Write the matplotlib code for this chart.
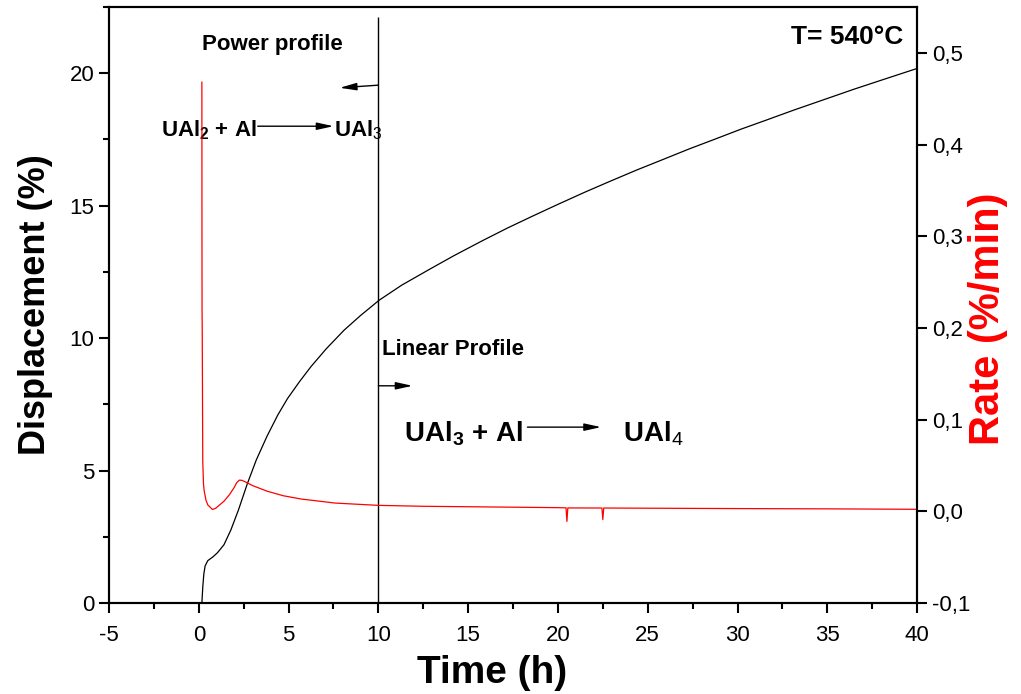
import matplotlib
matplotlib.use("Agg")
import matplotlib.pyplot as plt
from matplotlib.ticker import MultipleLocator, FuncFormatter

plt.rcParams['font.family'] = ['Liberation Sans', 'DejaVu Sans']
plt.rcParams['mathtext.fontset'] = 'custom'
plt.rcParams['mathtext.rm'] = 'Liberation Sans'
plt.rcParams['mathtext.bf'] = 'Liberation Sans:bold'
plt.rcParams['axes.unicode_minus'] = False

# displacement (%) vs time (h), black curve, left axis
disp_t = [0.17, 0.22, 0.28, 0.35, 0.5, 0.8, 1.04, 1.4, 1.78, 2.2, 2.7, 3.2, 3.8, 4.4,
          4.94, 5.6, 6.24, 7.1, 8.09, 9.0, 10.04, 11.3, 12.8, 14.2, 15.8, 17.2, 18.6,
          20.0, 21.5, 22.9, 24.4, 25.8, 27.3, 28.7, 30.2, 31.6, 33.1, 34.8, 36.5,
          38.2, 40.0]
disp_v = [0.0, 0.6, 1.1, 1.4, 1.6, 1.75, 1.9, 2.2, 2.75, 3.5, 4.5, 5.4, 6.3, 7.1,
          7.72, 8.35, 8.92, 9.6, 10.3, 10.85, 11.43, 12.0, 12.58, 13.11, 13.68, 14.16, 14.61,
          15.05, 15.51, 15.92, 16.35, 16.73, 17.14, 17.5, 17.89, 18.23, 18.6, 19.0, 19.4,
          19.78, 20.18]

# rate (%/min) vs time (h), red curve, right axis
rate_t = [0.17, 0.175, 0.18, 0.19, 0.2, 0.22, 0.26, 0.3, 0.4, 0.5, 0.76, 0.95, 1.1, 1.4, 1.7,
          1.97, 2.1, 2.25, 2.4, 2.6, 3.0, 3.8, 4.7, 5.7, 7.6, 10.0, 12.5, 15.0, 17.5, 20.0, 20.45,
          20.5, 20.55, 22.45, 22.5, 22.55, 25.0, 30.0, 35.0, 40.0]
rate_v = [0.468, 0.30, 0.22, 0.196, 0.147, 0.054, 0.03, 0.022, 0.012, 0.007, 0.002, 0.0035,
          0.006, 0.011, 0.018, 0.026, 0.031, 0.034, 0.0338, 0.032, 0.028, 0.022, 0.017, 0.0134,
          0.009, 0.0065, 0.0055, 0.005, 0.0045, 0.004, 0.0038, -0.011, 0.0037, 0.0036, -0.009,
          0.0036, 0.0034, 0.003, 0.0027, 0.0022]

fig = plt.figure(figsize=(10.21, 6.94), dpi=100)
ax = fig.add_axes([0.1068, 0.1311, 0.7914, 0.8588])
ax2 = ax.twinx()

ax.plot(disp_t, disp_v, color='black', lw=0.9)
ax2.plot(rate_t, rate_v, color='red', lw=0.9)

ax.set_xlim(-5, 40)
ax.set_ylim(0, 22.5)
ax2.set_ylim(-0.1, 0.55)

ax.xaxis.set_major_locator(MultipleLocator(5))
ax.xaxis.set_minor_locator(MultipleLocator(2.5))
ax.yaxis.set_major_locator(MultipleLocator(5))
ax.yaxis.set_minor_locator(MultipleLocator(2.5))
ax2.yaxis.set_major_locator(MultipleLocator(0.1))
ax2.yaxis.set_major_formatter(FuncFormatter(lambda v, p: ("%.1f" % v).replace(".", ",")))

for a in (ax, ax2):
    for s in a.spines.values():
        s.set_linewidth(1.5)
    a.tick_params(which='major', direction='out', length=7, width=1.5, labelsize=16)
    a.tick_params(which='minor', direction='out', length=4, width=1.5)
ax.tick_params(axis='y', right=False)
ax.tick_params(axis='x', pad=9)

ax.set_xlabel("Time (h)", fontsize=28, fontweight='bold')
ax.xaxis.set_label_coords(0.474, -0.088)
ax.set_ylabel("Displacement (%)", fontsize=26, fontweight='bold', labelpad=12)
ax2.set_ylabel("Rate (%/min)", fontsize=30, fontweight='bold', color='red')
ax2.yaxis.set_label_coords(1.063, 0.477)

# profile boundary at 10 h
ax.vlines(10, 0, 22.11, color='black', lw=1.0)

arrow = dict(arrowstyle='-|>,head_length=1.0,head_width=0.22', color='black', lw=1.0,
             shrinkA=0, shrinkB=0)
ax.annotate("", xy=(7.85, 19.45), xytext=(10, 19.55), arrowprops=arrow)
ax.annotate("", xy=(11.9, 8.2), xytext=(10, 8.2), arrowprops=arrow)
ax.annotate("", xy=(7.5, 18.0), xytext=(3.28, 18.0), arrowprops=arrow)
ax.annotate("", xy=(22.4, 6.64), xytext=(18.3, 6.64), arrowprops=arrow)

ax.text(0.17, 21.1, "Power profile", fontsize=16, fontweight='bold', ha='left', va='center')
ax.text(10.2, 9.36, "Linear Profile", fontsize=16, fontweight='bold', ha='left', va='baseline')
ax.text(-2.1, 17.62, r"UAl$_\mathbf{2}$ + Al", fontsize=16, fontweight='bold', va='baseline')
ax.text(7.52, 17.62, r"UAl$_\mathrm{3}$", fontsize=16, fontweight='bold', va='baseline')
ax.text(11.41, 6.11, r"UAl$_\mathbf{3}$ + Al", fontsize=20, fontweight='bold', va='baseline')
ax.text(23.6, 6.11, r"UAl$_\mathrm{4}$", fontsize=20, fontweight='bold', va='baseline')
ax.text(39.25, 21.1, "T= 540°C", fontsize=19, fontweight='bold', ha='right', va='baseline')

fig.savefig("out.png", dpi=100)
